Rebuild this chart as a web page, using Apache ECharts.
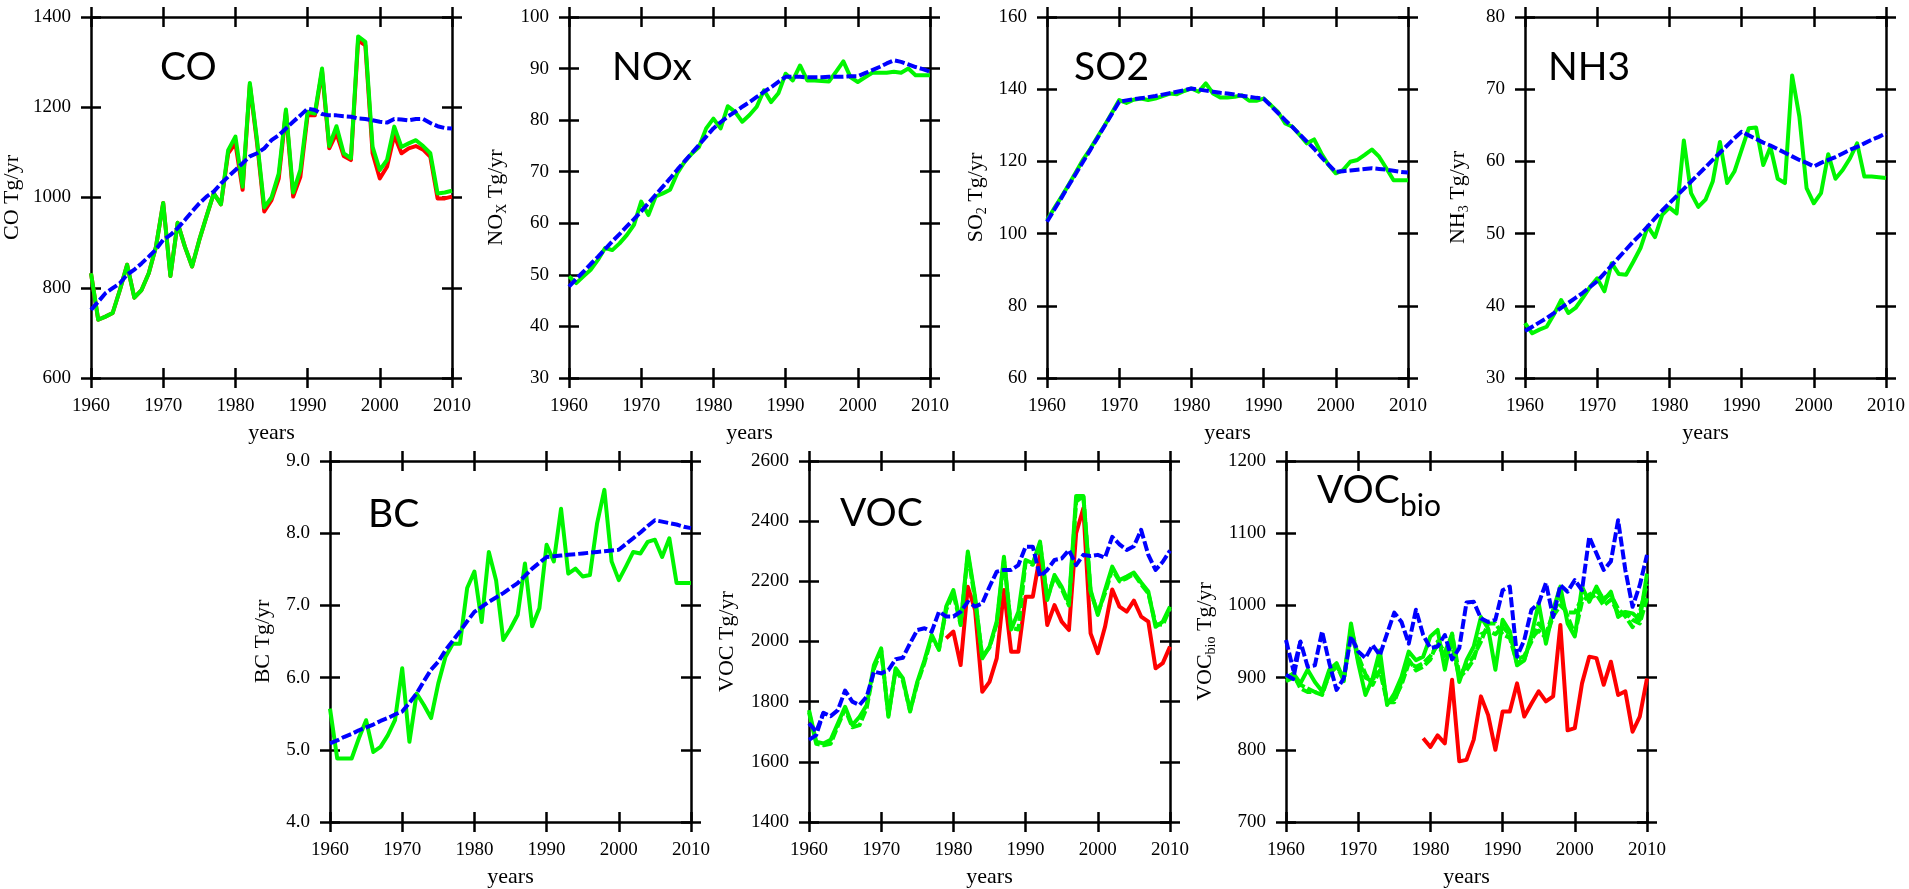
<!DOCTYPE html>
<html>
<head>
<meta charset="utf-8">
<script src="https://cdn.jsdelivr.net/npm/echarts@6/dist/echarts.min.js"></script>
<style>
html, body { margin: 0; padding: 0; background: #fff; }
#chart { width: 1909px; height: 889px; }
</style>
</head>
<body>
<div id="chart"></div>
<script>
// years on the x axis
const years = [];
for (let y = 1960; y <= 2010; y++) years.push(y);

// CO
const coRed = [832,729,736,744,795,851,778,795,832,891, 988,826,944,891,847,906,958,1009,985,1098,
  1120,1017,1250,1120,969,994,1042,1190,1002,1046, 1182,1182,1280,1109,1142,1092,1083,1348,1337,1098,
  1042,1068,1138,1098,1109,1114,1106,1090,998,998,1002];
const coGreen = [832,729,736,744,795,851,778,795,832,891, 988,826,944,891,847,906,958,1009,985,1105,
  1135,1024,1254,1127,978,1000,1053,1195,1011,1061, 1190,1186,1286,1114,1158,1098,1087,1357,1345,1112,
  1061,1083,1157,1112,1120,1127,1114,1098,1009,1011,1015];
const coBlue = [751,769,788,799,810,829,840,854,869,885, 906,917,932,950,969,987,1002,1013,1031,1046,
  1061,1076,1091,1098,1109,1127,1138,1153,1168,1182, 1197,1194,1185,1182,1182,1180,1179,1175,1174,1171,
  1168,1166,1174,1173,1171,1174,1174,1165,1158,1154,1153];

// NOx
const noxGreen = [49.7,48.4,49.7,51.0,52.9,55.2,54.8,56.1,57.7,59.7, 64.2,61.6,65.2,65.8,66.5,69.7,71.9,73.5,74.8,78.4,
  80.3,78.4,82.7,81.6,79.7,81.0,82.6,85.8,83.5,85.2, 89.0,87.7,90.6,87.7,87.7,87.6,87.5,89.4,91.4,88.3,
  87.4,88.3,89.2,89.2,89.2,89.4,89.2,90.0,88.7,88.7,88.7];
const noxBlue = [47.7,49.2,50.6,52.1,53.5,55.0,56.5,57.9,59.4,60.8, 62.3,63.9,65.5,67.1,68.7,70.4,72.0,73.6,75.2,76.8,
  78.4,79.6,80.7,81.6,82.6,83.5,84.5,85.5,86.4,87.4, 88.4,88.4,88.4,88.3,88.3,88.3,88.4,88.4,88.4,88.5,
  88.5,89.1,89.7,90.3,91.0,91.6,91.3,90.8,90.3,89.9,89.4];

// SO2
const so2Green = [103.7,107.0,110.2,113.5,117.0,120.5,123.5,126.8,130.0,133.5, 137.0,136.2,137.1,137.4,137.0,137.4,138.1,138.8,138.6,139.5,
  140.2,139.3,141.6,138.8,137.7,137.7,137.9,138.3,136.8,136.8, 137.4,135.6,133.7,130.5,129.6,127.3,125.0,126.1,122.2,119.0,
  116.7,117.6,119.9,120.4,121.8,123.3,121.3,118.1,114.8,114.8,114.8];
const so2Blue = [103.3,106.6,109.9,113.3,116.6,119.9,123.2,126.5,129.9,133.2, 136.5,136.9,137.2,137.5,137.8,138.1,138.5,138.9,139.3,139.7,
  140.2,139.9,139.6,139.3,139.0,138.8,138.5,138.2,137.9,137.6, 137.4,135.4,133.4,131.4,129.5,127.5,125.5,123.5,121.2,119.1,
  117.1,117.3,117.5,117.7,117.9,118.1,117.9,117.7,117.4,117.1,116.9];

// NH3
const nh3Green = [37.6,36.2,36.7,37.1,38.8,40.8,39.0,39.7,41.1,42.6, 43.8,42.0,45.9,44.4,44.3,46.1,48.0,51.0,49.5,52.6,
  53.6,52.8,62.9,55.6,53.7,54.7,57.2,62.7,57.0,58.6, 61.6,64.6,64.7,59.5,62.0,57.6,57.0,71.9,66.2,56.3,
  54.2,55.6,61.0,57.6,58.8,60.4,62.5,57.9,57.9,57.8,57.7];
const nh3Blue = [36.5,37.1,37.7,38.3,39.0,39.7,40.4,41.1,41.8,42.6, 43.4,44.5,45.6,46.7,47.8,48.9,49.9,51.0,52.1,53.2,
  54.2,55.2,56.2,57.2,58.2,59.2,60.2,61.2,62.2,63.2, 64.1,63.6,63.1,62.6,62.2,61.7,61.2,60.7,60.2,59.8,
  59.3,59.8,60.2,60.6,61.1,61.6,62.0,62.5,63.0,63.4,63.9];

// BC
const bcGreen = [5.57,4.88,4.88,4.88,5.16,5.41,4.97,5.04,5.20,5.41, 6.13,5.11,5.78,5.62,5.44,5.92,6.29,6.47,6.47,7.24,
  7.47,6.77,7.74,7.35,6.52,6.68,6.87,7.58,6.71,6.96, 7.84,7.61,8.34,7.44,7.51,7.40,7.42,8.14,8.60,7.61,
  7.35,7.54,7.74,7.72,7.88,7.91,7.67,7.93,7.31,7.31,7.31];
const bcBlue = [5.09,5.13,5.18,5.22,5.27,5.31,5.35,5.40,5.44,5.49, 5.53,5.65,5.78,5.95,6.11,6.22,6.38,6.51,6.64,6.78,
  6.91,6.98,7.05,7.11,7.17,7.24,7.31,7.41,7.51,7.59, 7.67,7.68,7.69,7.70,7.71,7.72,7.73,7.74,7.75,7.76,
  7.77,7.85,7.93,8.01,8.10,8.18,8.16,8.14,8.12,8.09,8.07];

// VOC (red starts in 1979)
const vocRed = [2011,2033,1922,2182,2105,1833,1866,1944,2171,1966,1966,2149,2149,2288,2055,2121,
  2066,2038,2360,2443,2027,1961,2049,2173,2116,2099,2136,2083,2066,1911,1928,1983];
const vocGreen = [1772,1667,1661,1673,1728,1783,1722,1750,1789,1922, 1977,1750,1911,1878,1767,1866,1938,2022,1972,2116,
  2171,2060,2299,2149,1944,1983,2066,2282,2040,2099, 2271,2260,2332,2138,2221,2182,2127,2484,2484,2171,
  2088,2171,2249,2204,2216,2229,2196,2166,2049,2066,2116];
const vocGreen2 = [1765,1660,1655,1660,1720,1775,1715,1722,1780,1910, 1970,1755,1905,1870,1770,1860,1930,2015,1975,2105,
  2160,2055,2290,2140,1950,1980,2060,2270,2045,2040, 2265,2255,2325,2145,2215,2175,2120,2465,2484,2165,
  2095,2160,2240,2200,2210,2225,2190,2160,2058,2055,2110];
const vocBlue = [1728,1700,1763,1752,1772,1837,1800,1789,1817,1900, 1894,1905,1941,1946,1994,2038,2044,2033,2099,2083,
  2083,2099,2132,2116,2127,2182,2232,2238,2238,2254, 2315,2315,2216,2238,2271,2276,2304,2254,2288,2284,
  2288,2279,2348,2323,2304,2317,2371,2288,2238,2265,2302];
const vocBlue2 = [1673,1689,1763];

// VOCbio (red starts in 1979)
const vocbioRed = [816,804,820,809,897,784,786,814,874,848,800,853,853,892,846,864,
  881,867,874,973,827,830,892,929,927,890,922,876,881,825,846,899];
const vocbioGreen = [899,906,892,911,894,881,911,920,897,975, 920,876,899,938,862,878,901,936,924,929,
  957,966,911,961,894,924,943,984,968,911, 980,964,917,924,959,1003,947,994,1026,975,
  957,1026,1005,1026,1007,1019,984,991,989,980,1044];
const vocbioGreen2 = [900,905,885,880,880,876,905,918,895,968, 930,905,890,910,866,866,895,925,910,915,
  925,950,935,960,905,915,930,950,975,975, 960,955,920,925,955,965,955,985,1000,990,
  990,1010,1010,1015,1000,1008,990,990,980,975,1010];
const vocbioGreen3 = [895,900,890,885,880,878,905,915,898,965, 925,900,895,925,865,870,890,920,915,920,
  930,945,930,945,900,910,925,960,965,960, 970,960,925,930,950,975,960,990,1010,985,
  960,1005,1015,1020,1010,1015,995,985,970,990,1030];
const vocbioBlue = [952,911,950,915,917,964,920,883,899,957, 936,927,945,931,961,990,977,947,994,959,
  941,943,959,925,941,1004,1005,982,977,980, 1021,1026,929,952,994,1003,1031,984,1028,1019,
  1035,1021,1095,1072,1049,1061,1118,1049,998,1028,1070];
const vocbioBlue2 = [904,898,950];

const RED = '#ff0000', GREEN = '#00f500', BLUE = '#0000ff';
const SERIF = 'Liberation Serif';

const panels = [
  { title: 'CO', yName: 'CO Tg/yr', min: 600, max: 1400, step: 200, left: 91, top: 17, tl: 160, tt: 48, gap: 68,
    lines: [[coRed, 1960, RED, false], [coGreen, 1960, GREEN, false], [coBlue, 1960, BLUE, true]] },
  { title: 'NOx', yName: '{m|NO}{s|X}{m| Tg/yr}', min: 30, max: 100, step: 10, left: 569, top: 17, tl: 612, tt: 48, gap: 60,
    lines: [[noxGreen, 1960, GREEN, false], [noxBlue, 1960, BLUE, true]] },
  { title: 'SO2', yName: '{m|SO}{s|2}{m| Tg/yr}', min: 60, max: 160, step: 20, left: 1047, top: 17, tl: 1074, tt: 48, gap: 58,
    lines: [[so2Green, 1960, GREEN, false], [so2Blue, 1960, BLUE, true]] },
  { title: 'NH3', yName: '{m|NH}{s|3}{m| Tg/yr}', min: 30, max: 80, step: 10, left: 1525, top: 17, tl: 1548, tt: 48, gap: 54,
    lines: [[nh3Green, 1960, GREEN, false], [nh3Blue, 1960, BLUE, true]] },
  { title: 'BC', yName: 'BC Tg/yr', min: 4, max: 9, step: 1, dec: 1, left: 330, top: 461, tl: 368, tt: 495, gap: 56,
    lines: [[bcGreen, 1960, GREEN, false], [bcBlue, 1960, BLUE, true]] },
  { title: 'VOC', yName: 'VOC Tg/yr', min: 1400, max: 2600, step: 200, left: 809, top: 461, tl: 840, tt: 494, gap: 71,
    lines: [[vocRed, 1979, RED, false], [vocGreen, 1960, GREEN, false], [vocGreen2, 1960, GREEN, true],
            [vocBlue2, 1960, BLUE, true], [vocBlue, 1960, BLUE, true]] },
  { title: '{t|VOC}{s|bio}', yName: '{m|VOC}{s|bio}{m| Tg/yr}', min: 700, max: 1200, step: 100, left: 1286, top: 461, tl: 1317, tt: 471, gap: 68,
    lines: [[vocbioRed, 1979, RED, false], [vocbioGreen, 1960, GREEN, false], [vocbioGreen2, 1960, GREEN, true],
            [vocbioGreen3, 1960, GREEN, true], [vocbioBlue2, 1960, BLUE, true], [vocbioBlue, 1960, BLUE, true]] }
];

const SIZE = 361;
const grid = [], xAxis = [], yAxis = [], title = [], series = [];
const lineBlack = { show: true, onZero: false, lineStyle: { color: '#000', width: 2.5 } };
const tickOut = { show: true, inside: false, length: 10, lineStyle: { color: '#000', width: 2.5 } };
const tickIn = { show: true, inside: true, length: 10, lineStyle: { color: '#000', width: 2.5 } };

panels.forEach((p, i) => {
  grid.push({ left: p.left, top: p.top, width: SIZE, height: SIZE });

  const xBase = { type: 'value', gridIndex: i, min: 1960, max: 2010, interval: 10, splitLine: { show: false } };
  xAxis.push(Object.assign({}, xBase, {
    position: 'bottom', axisLine: lineBlack, axisTick: tickOut,
    axisLabel: { margin: 19, color: '#000', fontFamily: SERIF, fontSize: 19, formatter: v => String(v) },
    name: 'years', nameLocation: 'middle', nameGap: 44,
    nameTextStyle: { color: '#000', fontFamily: SERIF, fontSize: 22 }
  }));
  xAxis.push(Object.assign({}, xBase, { position: 'bottom', axisLine: { show: false }, axisTick: tickIn, axisLabel: { show: false } }));
  xAxis.push(Object.assign({}, xBase, { position: 'top', axisLine: lineBlack, axisTick: tickOut, axisLabel: { show: false } }));
  xAxis.push(Object.assign({}, xBase, { position: 'top', axisLine: { show: false }, axisTick: tickIn, axisLabel: { show: false } }));

  const yBase = { type: 'value', gridIndex: i, min: p.min, max: p.max, interval: p.step, splitLine: { show: false } };
  yAxis.push(Object.assign({}, yBase, {
    position: 'left', axisLine: lineBlack, axisTick: tickOut,
    axisLabel: { margin: 20, color: '#000', fontFamily: SERIF, fontSize: 19,
      formatter: v => p.dec ? v.toFixed(p.dec) : String(v) },
    name: p.yName, nameLocation: 'middle', nameGap: p.gap, nameRotate: 90,
    nameTextStyle: { color: '#000', fontFamily: SERIF, fontSize: 22,
      rich: { m: { fontFamily: SERIF, fontSize: 22, lineHeight: 26, verticalAlign: 'middle', color: '#000' },
              s: { fontFamily: SERIF, fontSize: 14, lineHeight: 14, verticalAlign: 'bottom', color: '#000' } } }
  }));
  yAxis.push(Object.assign({}, yBase, { position: 'left', axisLine: { show: false }, axisTick: tickIn, axisLabel: { show: false } }));
  yAxis.push(Object.assign({}, yBase, { position: 'right', axisLine: lineBlack, axisTick: tickOut, axisLabel: { show: false } }));
  yAxis.push(Object.assign({}, yBase, { position: 'right', axisLine: { show: false }, axisTick: tickIn, axisLabel: { show: false } }));

  title.push({
    text: p.title, left: p.tl, top: p.tt, padding: 0,
    textStyle: { fontFamily: 'Lato', fontSize: 39, fontWeight: 'normal', color: '#000',
      rich: { t: { fontFamily: 'Lato', fontSize: 39, lineHeight: 40, verticalAlign: 'top', color: '#000' },
              s: { fontFamily: 'Lato', fontSize: 30, lineHeight: 70, color: '#000' } } }
  });

  p.lines.forEach(([vals, start, color, dashed], k) => {
    series.push({
      type: 'line', xAxisIndex: i * 4, yAxisIndex: i * 4,
      data: vals.map((v, j) => [start + j, v]),
      symbol: 'none', silent: true, z: 2 + k,
      lineStyle: { color: color, width: 4, type: dashed ? [10, 3] : 'solid', cap: 'butt', join: 'round' }
    });
  });
});

const chart = echarts.init(document.getElementById('chart'));
chart.setOption({
  animation: false,
  backgroundColor: '#fff',
  title, grid, xAxis, yAxis, series
});
</script>
</body>
</html>
